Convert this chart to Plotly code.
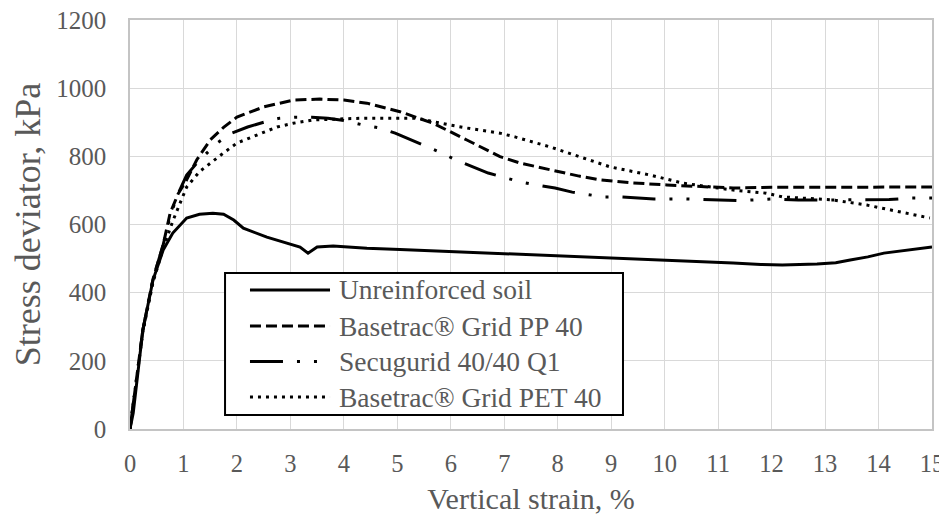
import plotly.graph_objects as go

# ---- data ----
strain_unreinf = [0, 0.06, 0.24, 0.43, 0.62, 0.8, 1.06, 1.3, 1.55, 1.75, 1.94, 2.12, 2.56, 2.93, 3.18, 3.33,
                  3.5, 3.8, 4.43, 5.05, 5.67, 6.3, 6.92, 7.5, 8.0, 8.79, 9.4, 10.04, 10.6, 11.28, 11.8, 12.2,
                  12.85, 13.2, 13.47, 13.8, 14.1, 14.5, 15.0]
stress_unreinf = [0, 47, 290, 437, 525, 575, 619, 630, 633, 630, 613, 589, 563, 545, 534, 516,
                  534, 537, 530, 527, 523, 520, 516, 513, 510, 505, 500, 496, 493, 487, 483, 481,
                  484, 488, 496, 505, 516, 523, 534]

strain_pp = [0, 0.24, 0.43, 0.62, 0.75, 0.9, 1.06, 1.25, 1.5, 1.75, 2.0, 2.5, 3.05, 3.55, 4.0, 4.43, 5.05,
             5.67, 6.3, 6.92, 7.3, 7.85, 8.4, 8.79, 9.4, 10.04, 11.28, 12.0, 13.0, 14.0, 15.0]
stress_pp = [0, 290, 440, 540, 633, 690, 731, 790, 848, 885, 915, 945, 965, 968, 965, 956, 931,
             897, 848, 799, 780, 760, 742, 731, 722, 716, 707, 709, 709, 709, 710]

strain_secu = [0, 0.24, 0.43, 0.62, 0.75, 0.9, 1.06, 1.25, 1.44, 1.63, 1.9, 2.2, 2.5, 2.8, 3.1, 3.4, 3.7,
               4.0, 4.36, 4.68, 4.96, 5.27, 5.55, 5.83, 6.1, 6.4, 6.7, 7.0, 7.3, 7.6, 7.95, 8.27, 8.55,
               8.85, 9.16, 9.5, 9.8, 10.4, 11.0, 11.4, 12.0, 12.5, 13.0, 13.6, 14.2, 14.6, 15.0]
stress_secu = [0, 290, 440, 540, 625, 690, 745, 780, 810, 839, 868, 886, 900, 912, 915, 915, 912,
               905, 892, 883, 868, 848, 828, 810, 789, 769, 751, 738, 725, 716, 707, 695, 688,
               681, 681, 677, 675, 675, 672, 670, 675, 672, 672, 672, 673, 678, 678]

strain_pet = [0, 0.24, 0.43, 0.62, 0.8, 1.06, 1.3, 1.5, 1.75, 2.0, 2.5, 2.75, 3.05, 3.43, 4.0, 4.4, 5.0,
              5.36, 5.98, 6.3, 6.92, 7.2, 7.85, 8.4, 8.98, 9.73, 10.35, 11.28, 11.9, 12.2, 12.85, 13.15,
              13.78, 14.4, 14.96]
stress_pet = [0, 285, 430, 530, 610, 710, 755, 780, 810, 839, 871, 886, 897, 907, 910, 912, 912,
              912, 892, 883, 868, 857, 828, 800, 769, 745, 721, 701, 692, 681, 676, 672,
              657, 637, 619]

series_names = ["Unreinforced soil", "Basetrac® Grid PP 40", "Secugurid 40/40 Q1", "Basetrac® Grid PET 40"]

x_ticks = list(range(0, 16))
y_ticks = list(range(0, 1201, 200))

# ---- styling ----
FONT = "'Liberation Serif', 'Times New Roman', Times, serif"
GREY = "#595959"
dashes = ["solid", "11px,5px", "33px,14px,3px,14px,3px,14px", "3px,5px"]

fig = go.Figure()
data = [(strain_unreinf, stress_unreinf), (strain_pp, stress_pp),
        (strain_secu, stress_secu), (strain_pet, stress_pet)]
for i, ((xs, ys), name) in enumerate(zip(data, series_names)):
    fig.add_trace(go.Scatter(
        x=xs, y=ys, name=name, mode="lines", showlegend=False,
        line=dict(color="black", width=3, dash=dashes[i]),
    ))

# ---- legend box (drawn in paper coordinates of the plot area) ----
box = dict(x0=0.1185, x1=0.6147, y0=0.0342, y1=0.3814)
row_y = [0.3399, 0.2518, 0.1650, 0.0782]
sample_x0, sample_x1, text_x = 0.1496, 0.2494, 0.2582

shapes = [dict(type="rect", xref="paper", yref="paper", layer="above",
               fillcolor="white", line=dict(color="black", width=2), **box)]
annotations = []
for i, name in enumerate(series_names):
    shapes.append(dict(type="line", xref="paper", yref="paper", layer="above",
                       x0=sample_x0, x1=sample_x1, y0=row_y[i], y1=row_y[i],
                       line=dict(color="black", width=3, dash=dashes[i])))
    annotations.append(dict(xref="paper", yref="paper", x=text_x, y=row_y[i],
                            xanchor="left", yanchor="middle", showarrow=False,
                            text=name, font=dict(family=FONT, size=27.5, color=GREY)))

fig.update_layout(
    width=939, height=507,
    margin=dict(l=122, r=15, t=12, b=86),
    paper_bgcolor="white", plot_bgcolor="white",
    font=dict(family=FONT, color=GREY, size=24),
    showlegend=False,
    shapes=shapes, annotations=annotations,
)
fig.update_xaxes(
    range=[0, 15], tickvals=x_ticks, ticktext=[str(v) for v in x_ticks],
    showgrid=True, gridcolor="#d9d9d9", gridwidth=1,
    showline=True, linecolor="#c4c4c4", linewidth=1.5, mirror=True,
    zeroline=False, ticks="", tickfont=dict(size=24.5, color=GREY, family=FONT),
    ticklabelstandoff=12, ticklabeloverflow="allow", automargin=False,
    title=dict(text="Vertical strain, %", font=dict(size=30, color=GREY, family=FONT), standoff=18),
)
fig.update_yaxes(
    range=[0, 1200], tickvals=y_ticks, ticktext=[str(v) for v in y_ticks],
    showgrid=True, gridcolor="#d9d9d9", gridwidth=1,
    showline=True, linecolor="#c4c4c4", linewidth=1.5, mirror=True,
    zeroline=False, ticks="", tickfont=dict(size=25, color=GREY, family=FONT),
    ticklabelstandoff=17, ticklabeloverflow="allow", automargin=False,
    title=dict(text="Stress deviator, kPa", font=dict(size=36, color=GREY, family=FONT), standoff=11),
)

fig.write_html("out.html")
